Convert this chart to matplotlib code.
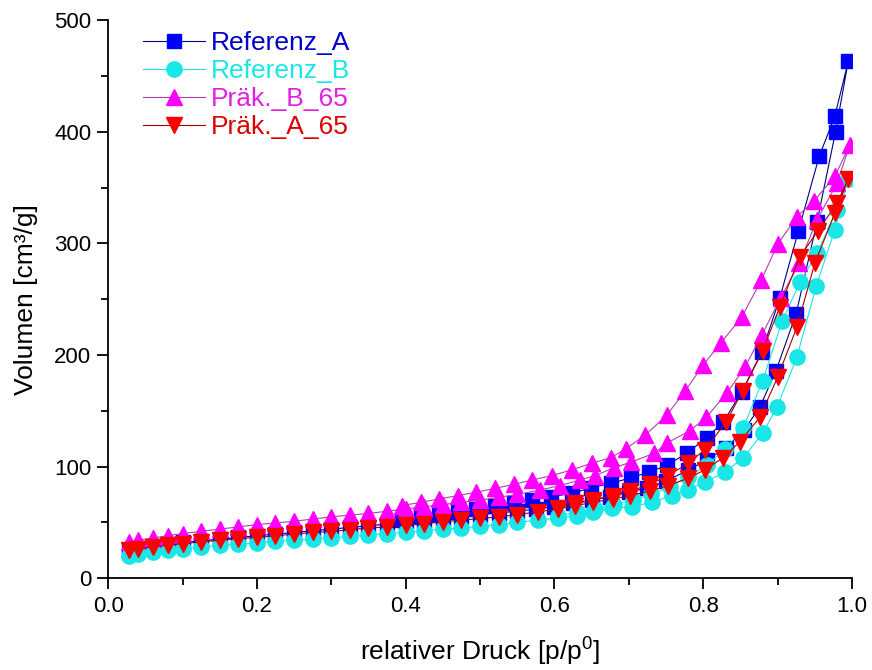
import numpy as np
import matplotlib
matplotlib.use("Agg")
from matplotlib import pyplot as plt
from matplotlib.ticker import MultipleLocator, FormatStrFormatter

plt.rcParams['font.family'] = ['Liberation Sans', 'DejaVu Sans']
plt.rcParams['mathtext.fontset'] = 'custom'
plt.rcParams['mathtext.rm'] = 'Liberation Sans'

# Referenz_A (adsorption up, desorption down)
refA_ads_x = [0.028, 0.04, 0.06, 0.08, 0.10, 0.125, 0.15, 0.175, 0.20, 0.225, 0.25, 0.275, 0.30,
              0.325, 0.35, 0.375, 0.40, 0.425, 0.45, 0.475, 0.50, 0.525, 0.55, 0.575, 0.60, 0.625,
              0.65, 0.675, 0.70, 0.725, 0.75, 0.78, 0.805, 0.831, 0.855, 0.876, 0.898, 0.925,
              0.953, 0.978, 0.995]
refA_ads_y = [25, 27, 29, 30.5, 32, 33.5, 35, 36.5, 38, 39.5, 41, 42.5, 44, 45.5, 47, 48.5, 50,
              51.5, 53, 55, 57, 58.5, 60, 62, 64, 67, 70, 73, 77, 81, 87, 97, 106, 117, 133, 153,
              186, 237, 319, 400, 463]
refA_des_x = [0.977, 0.956, 0.928, 0.903, 0.879, 0.852, 0.827, 0.805, 0.778, 0.751, 0.727, 0.703,
              0.676, 0.649, 0.623, 0.596, 0.57, 0.545, 0.52, 0.495, 0.47, 0.445, 0.42, 0.395]
refA_des_y = [414, 378, 311, 251, 203, 167, 140, 126, 112, 101, 95, 90, 85, 81, 76, 73, 70, 67,
              64.5, 62, 59.5, 57, 55, 52.5]

# Referenz_B
refB_ads_x = [0.028, 0.04, 0.06, 0.08, 0.10, 0.125, 0.15, 0.175, 0.20, 0.225, 0.25, 0.275, 0.30,
              0.325, 0.35, 0.375, 0.40, 0.425, 0.45, 0.475, 0.50, 0.525, 0.55, 0.578, 0.605, 0.63,
              0.652, 0.677, 0.704, 0.731, 0.758, 0.78, 0.802, 0.829, 0.854, 0.88, 0.899, 0.926,
              0.952, 0.977, 0.995]
refB_ads_y = [20, 22, 23.5, 25, 26.5, 28, 29.5, 30.5, 31.5, 33, 34, 35, 36, 37.5, 38.5, 40, 41,
              42.5, 44, 45, 46.5, 48, 50, 52, 54, 56, 59, 62.5, 64, 68, 74, 79, 86, 95, 108, 130,
              153, 198, 262, 312, 358]
refB_des_x = [0.98, 0.953, 0.93, 0.906, 0.88, 0.854, 0.83, 0.805, 0.78, 0.755, 0.73, 0.705, 0.68,
              0.655, 0.63, 0.605]
refB_des_y = [330, 291, 265, 230, 177, 135, 116, 101, 91, 82, 75, 70, 66, 62, 59, 56]

# Präk._B_65
prB_ads_x = [0.028, 0.04, 0.06, 0.08, 0.10, 0.125, 0.15, 0.175, 0.20, 0.225, 0.25, 0.275, 0.30,
             0.325, 0.35, 0.375, 0.40, 0.425, 0.45, 0.475, 0.50, 0.525, 0.55, 0.58, 0.608, 0.634,
             0.655, 0.68, 0.703, 0.734, 0.751, 0.782, 0.804, 0.832, 0.856, 0.879, 0.904, 0.929,
             0.953, 0.98, 0.997]
prB_ads_y = [32, 34, 36, 38, 40, 42, 44, 46, 48, 49.5, 51, 53, 55, 56.5, 58, 60, 62, 64, 66, 68,
             70, 72.5, 75, 79, 83, 88, 92, 99, 104, 112, 121, 132, 144, 166, 189, 218, 251, 282,
             321, 354, 388]
prB_des_x = [0.977, 0.949, 0.926, 0.90, 0.878, 0.852, 0.824, 0.80, 0.776, 0.751, 0.722, 0.696,
             0.676, 0.65, 0.623, 0.597, 0.57, 0.545, 0.52, 0.495, 0.47, 0.445, 0.42, 0.395]
prB_des_y = [360, 338, 324, 299, 267, 234, 211, 191, 168, 146, 128, 116, 108, 103, 97, 92, 88,
             84, 80.5, 77, 74, 71, 68, 65]

# Präk._A_65
prA_ads_x = [0.028, 0.04, 0.06, 0.08, 0.10, 0.125, 0.15, 0.175, 0.20, 0.225, 0.25, 0.275, 0.30,
             0.325, 0.35, 0.375, 0.40, 0.425, 0.45, 0.475, 0.50, 0.525, 0.55, 0.578, 0.605, 0.628,
             0.652, 0.679, 0.702, 0.728, 0.753, 0.78, 0.802, 0.827, 0.849, 0.876, 0.90, 0.926,
             0.95, 0.977, 0.995]
prA_ads_y = [25, 26.5, 28, 29.5, 31, 32.5, 34, 35.5, 36.5, 38, 39.5, 41, 42, 43.5, 45, 46, 47.5,
             49, 50.5, 52, 53.5, 55, 57, 59.5, 62, 65, 68, 71, 74, 78, 83, 89.6, 97, 108, 122,
             144, 180, 225, 282, 327, 358]
prA_des_x = [0.98, 0.954, 0.93, 0.903, 0.88, 0.853, 0.831, 0.802, 0.78, 0.753, 0.728, 0.702,
             0.679, 0.652, 0.628, 0.605]
prA_des_y = [336, 311, 288, 243, 204, 168, 140, 115, 103, 92, 84, 78, 74, 70, 67, 63]

series = [
    ("Referenz_A", refA_ads_x + refA_des_x, refA_ads_y + refA_des_y, 's', '#0000FF', '#000080', '#0000CC', 10),
    ("Referenz_B", refB_ads_x + refB_des_x, refB_ads_y + refB_des_y, 'o', '#19E6E6', '#19E6E6', '#19E6E6', 11),
    ("Präk._B_65", prB_ads_x + prB_des_x, prB_ads_y + prB_des_y, '^', '#FF00FF', '#B040B0', '#E020E0', 12),
    ("Präk._A_65", prA_ads_x + prA_des_x, prA_ads_y + prA_des_y, 'v', '#FF0000', '#A00000', '#DD0000', 12),
]

fig = plt.figure(figsize=(8.72, 6.70), dpi=100)
ax = fig.add_axes([0.124, 0.137, 0.853, 0.833])

text_colors = []
for label, xs, ys, mk, mcol, lcol, tcol, ms in series:
    ax.plot(xs, ys, color=lcol, lw=0.8, marker=mk, markersize=ms,
            markerfacecolor=mcol, markeredgecolor=mcol, label=label)
    text_colors.append(tcol)

ax.set_xlim(0, 1.0)
ax.set_ylim(0, 500)
ax.xaxis.set_major_locator(MultipleLocator(0.2))
ax.xaxis.set_minor_locator(MultipleLocator(0.1))
ax.yaxis.set_major_locator(MultipleLocator(100))
ax.yaxis.set_minor_locator(MultipleLocator(50))
ax.xaxis.set_major_formatter(FormatStrFormatter('%.1f'))
ax.spines['top'].set_visible(False)
ax.spines['right'].set_visible(False)
ax.spines['left'].set_linewidth(1.3)
ax.spines['bottom'].set_linewidth(1.3)
ax.tick_params(which='major', direction='out', length=8, width=1.3, labelsize=16)
ax.tick_params(which='minor', direction='out', length=5, width=1.3)
ax.tick_params(axis='x', pad=5)
ax.tick_params(axis='y', pad=4)

ax.set_xlabel('relativer Druck [p/p$^\\mathregular{0}$]', fontsize=19, labelpad=12)
ax.set_ylabel('Volumen [cm³/g]', fontsize=19, labelpad=12)

leg = ax.legend(loc='upper left', frameon=False, fontsize=19, handlelength=2.35,
                handletextpad=0.2, labelspacing=0.15, borderaxespad=0.0, borderpad=0.2,
                bbox_to_anchor=(0.04, 0.99), numpoints=1)
for t, c in zip(leg.get_texts(), text_colors):
    t.set_color(c)

fig.savefig('out.png', dpi=100)
